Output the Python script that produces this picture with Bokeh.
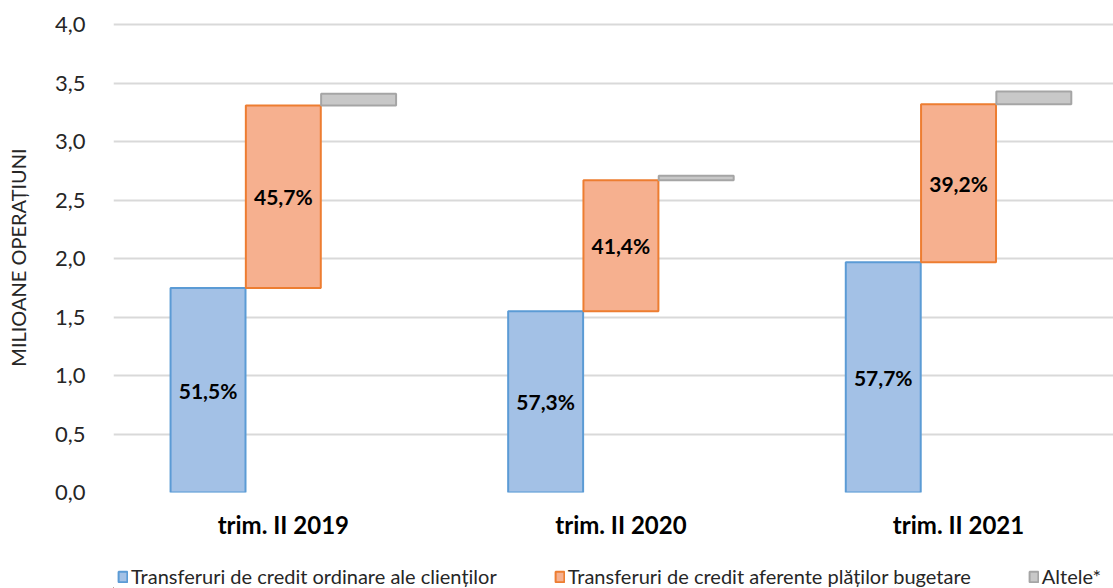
from bokeh.plotting import figure
from bokeh.models import ColumnDataSource, Range1d, FixedTicker, Legend, LegendItem
from bokeh.layouts import column
from bokeh.core.properties import value
from bokeh.embed import file_html
from bokeh.resources import INLINE

categories = ["trim. II 2019", "trim. II 2020", "trim. II 2021"]
clienti = [1.75, 1.55, 1.97]
bugetare = [1.56, 1.12, 1.35]
altele = [0.10, 0.04, 0.11]
pct_clienti = ["51,5%", "57,3%", "57,7%"]
pct_bugetare = ["45,7%", "41,4%", "39,2%"]
series_names = ["Transferuri de credit ordinare ale clienților",
                "Transferuri de credit aferente plăților bugetare",
                "Altele*"]

FONT = "Lato"
BLUE_FILL, BLUE_LINE = "#a3c1e6", "#5b9bd5"
ORANGE_FILL, ORANGE_LINE = "#f6b08f", "#ed7d31"
GRAY_FILL, GRAY_LINE = "#c8c8c8", "#a5a5a5"

xs = list(range(len(categories)))
off = 0.223
w = 0.222

b_top = clienti
o_bot = clienti
o_top = [a + b for a, b in zip(clienti, bugetare)]
g_bot = o_top
g_top = [a + b for a, b in zip(o_top, altele)]

src = ColumnDataSource(dict(
    x=xs,
    xb=[x - off for x in xs],
    xg=[x + off for x in xs],
    b_top=b_top, o_bot=o_bot, o_top=o_top, g_bot=g_bot, g_top=g_top,
    b_mid=[t / 2 for t in b_top],
    o_mid=[(a + b) / 2 for a, b in zip(o_bot, o_top)],
    pb=pct_clienti, po=pct_bugetare,
))

p = figure(frame_width=1000, frame_height=470, output_backend="svg", toolbar_location=None,
           x_range=Range1d(-0.503, 2.459), y_range=Range1d(0, 4.02),
           min_border_left=113, min_border_right=0, min_border_top=22,
           min_border_bottom=56)
p.outline_line_color = None
p.background_fill_color = "white"
p.border_fill_color = "white"

p.xgrid.grid_line_color = None
p.ygrid.grid_line_color = "#d9d9d9"
p.ygrid.grid_line_width = 2
p.yaxis.ticker = FixedTicker(ticks=[0, 0.5, 1, 1.5, 2, 2.5, 3, 3.5, 4])
p.yaxis.major_label_overrides = {0: "0,0", 0.5: "0,5", 1: "1,0", 1.5: "1,5", 2: "2,0",
                                 2.5: "2,5", 3: "3,0", 3.5: "3,5", 4: "4,0"}
p.yaxis.axis_line_color = None
p.yaxis.major_tick_line_color = None
p.yaxis.minor_tick_line_color = None
p.yaxis.major_label_text_font = FONT
p.yaxis.major_label_text_font_size = "22px"
p.yaxis.major_label_text_color = "#262626"
p.yaxis.major_label_standoff = 22
p.yaxis.axis_label = "MILIOANE OPERAȚIUNI"
p.yaxis.axis_label_text_font = FONT
p.yaxis.axis_label_text_font_style = "normal"
p.yaxis.axis_label_text_font_size = "20px"
p.yaxis.axis_label_text_color = "#262626"
p.yaxis.axis_label_standoff = 22

p.xaxis.ticker = FixedTicker(ticks=xs)
p.xaxis.major_label_overrides = {i: c for i, c in enumerate(categories)}
p.xaxis.axis_line_color = None
p.xaxis.major_tick_line_color = None
p.xaxis.minor_tick_line_color = None
p.xaxis.major_label_text_font = FONT
p.xaxis.major_label_text_font_style = "bold"
p.xaxis.major_label_text_font_size = "24px"
p.xaxis.major_label_text_color = "black"
p.xaxis.major_label_standoff = 11

p.vbar(x="xb", bottom=0, top="b_top", width=w, source=src,
       fill_color=BLUE_FILL, line_color=BLUE_LINE, line_width=2)
p.vbar(x="x", bottom="o_bot", top="o_top", width=w, source=src,
       fill_color=ORANGE_FILL, line_color=ORANGE_LINE, line_width=2)
p.vbar(x="xg", bottom="g_bot", top="g_top", width=w, source=src,
       fill_color=GRAY_FILL, line_color=GRAY_LINE, line_width=2)

p.text(x="xb", y="b_mid", text="pb", source=src, text_align="center",
       text_baseline="middle", text_font=value(FONT), text_font_style="bold",
       text_font_size="21px", text_color="black")
p.text(x="x", y="o_mid", text="po", source=src, text_align="center",
       text_baseline="middle", text_font=value(FONT), text_font_style="bold",
       text_font_size="21px", text_color="black")

# legend strip: same bars, drawn out of its visible range, only their legend swatches show
lg = figure(width=1113, height=40, output_backend="svg", toolbar_location=None,
            x_range=Range1d(100, 101), y_range=Range1d(100, 101),
            x_axis_location=None, y_axis_location=None,
            min_border=0, min_border_left=0, min_border_right=0,
            min_border_top=0, min_border_bottom=0)
lg.grid.grid_line_color = None
lg.outline_line_color = None
lg.border_fill_color = "white"
lg.background_fill_color = "white"
l1 = lg.vbar(x="xb", bottom=0, top="b_top", width=w, source=src,
             fill_color=BLUE_FILL, line_color=BLUE_LINE, line_width=2)
l2 = lg.vbar(x="x", bottom="o_bot", top="o_top", width=w, source=src,
             fill_color=ORANGE_FILL, line_color=ORANGE_LINE, line_width=2)
l3 = lg.vbar(x="xg", bottom="g_bot", top="g_top", width=w, source=src,
             fill_color=GRAY_FILL, line_color=GRAY_LINE, line_width=2)

legend = Legend(items=[LegendItem(label=series_names[0], renderers=[l1]),
                       LegendItem(label=series_names[1], renderers=[l2]),
                       LegendItem(label=series_names[2], renderers=[l3])],
                orientation="horizontal", location=(4, 0),
                label_text_font=FONT, label_text_font_size="20px",
                label_text_color="#262626",
                glyph_width=11, glyph_height=13, label_standoff=3,
                spacing=57, padding=0, margin=0, border_line_color=None,
                background_fill_alpha=0)
lg.add_layout(legend, "center")

layout = column(p, lg, spacing=0)
open("out.html", "w").write(file_html(layout, INLINE))
